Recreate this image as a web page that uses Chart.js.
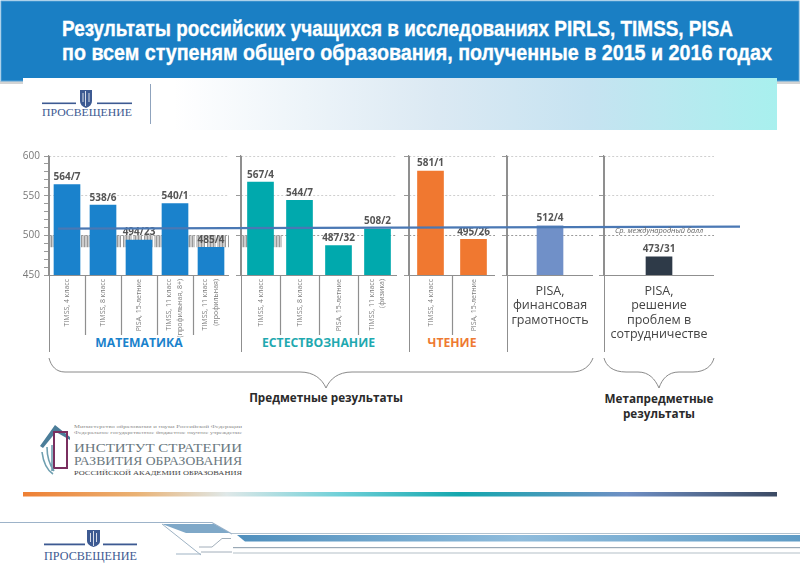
<!DOCTYPE html>
<html lang="ru"><head><meta charset="utf-8">
<script src="https://cdn.jsdelivr.net/npm/chart.js@4"></script>
<style>
html,body{margin:0;padding:0;background:#fff;width:800px;height:565px;overflow:hidden}
#stage{position:relative;width:800px;height:565px;overflow:hidden}
#deco{position:absolute;left:0;top:0}
canvas{position:absolute}
</style></head><body><div id="stage">
<svg id="deco" width="800" height="565" xmlns="http://www.w3.org/2000/svg">
<defs>
<linearGradient id="gBand" x1="0" x2="1" y1="0" y2="0"><stop offset="0.2" stop-color="#fff"/><stop offset="0.55" stop-color="#dbe9f3"/><stop offset="0.75" stop-color="#c6e3f1"/><stop offset="1" stop-color="#a8f0ee"/></linearGradient>
<linearGradient id="gBar" x1="0" x2="1" y1="0" y2="0"><stop offset="0" stop-color="#ee7f33"/><stop offset="0.15" stop-color="#eab274"/><stop offset="0.27" stop-color="#dfe8e8"/><stop offset="0.42" stop-color="#6fd0d8"/><stop offset="0.58" stop-color="#13a7ae"/><stop offset="0.8" stop-color="#6f8fc4"/><stop offset="1" stop-color="#3b4a63"/></linearGradient>
<linearGradient id="gFoot" x1="0" x2="1" y1="0" y2="0"><stop offset="0" stop-color="#4f8fbd"/><stop offset="0.5" stop-color="#8fbcdc"/><stop offset="1" stop-color="#5f9cc6"/></linearGradient>
</defs>
<rect x="0" y="81" width="800" height="3" fill="#d4d4d4"/>
<rect x="1" y="1" width="798" height="80" fill="#1a7fc4" stroke="#5aa3d6"/>
<rect x="23" y="78" width="754" height="52" fill="url(#gBand)"/>
<g font-family="'Liberation Sans'" font-weight="700" fill="#fff" stroke="#fff" stroke-width="0.35" font-size="22.500">
<text x="62" y="36" textLength="671" lengthAdjust="spacingAndGlyphs">Результаты российских учащихся в исследованиях PIRLS, TIMSS, PISA</text>
<text x="62" y="60" textLength="710" lengthAdjust="spacingAndGlyphs">по всем ступеням общего образования, полученные в 2015 и 2016 годах</text>
</g>
<g fill="#3d5a92">
<rect x="42" y="102.500" width="34" height="1.600"/><rect x="97" y="102.500" width="35" height="1.600"/>
<path d="M80 90h12v11q0 5-6 7q-6-2-6-7z"/>
<path d="M85.500 91v15M83 93v9M89 93v9" stroke="#fff" stroke-width="0.8" fill="none"/>
<text x="42" y="116" font-family="'Liberation Serif'" font-size="10.500" textLength="90" lengthAdjust="spacingAndGlyphs">ПРОСВЕЩЕНИЕ</text>
<rect x="150" y="84" width="1" height="40" fill="#8fa3bd"/>
</g>
<g stroke="#8a8a8a" stroke-width="1" fill="none">
<path d="M49 358c2 8 7 14 16 14H300c14 0 22 7 26 16c4-9 12-16 26-16H572c11 0 18-6 21-14"/>
<path d="M604 358c2 8 9 14 22 14h12c11 0 17 7 21 16c3-9 9-16 20-16h14c12 0 19-6 21-14"/>
</g>
<g font-family="'Open Sans'" font-weight="700" text-anchor="middle">
<text x="139" y="347" font-size="12.200" fill="#1a82cc">МАТЕМАТИКА</text>
<text x="318.500" y="347" font-size="12.200" fill="#1fa9b0">ЕСТЕСТВОЗНАНИЕ</text>
<text x="452" y="347" font-size="12.200" fill="#ee7a32">ЧТЕНИЕ</text>
<text x="326" y="402" font-size="11.700" fill="#2a2a2a">Предметные результаты</text>
<text x="659" y="403" font-size="11.700" fill="#2a2a2a">Метапредметные</text>
<text x="659" y="418" font-size="11.700" fill="#2a2a2a">результаты</text>
</g>
<g>
<path d="M40 446l15-21l15 12v3l-14-8l-13 16z" fill="#4b7d99"/>
<rect x="54" y="432" width="13" height="36" fill="none" stroke="#7a2f5f" stroke-width="2"/>
<path d="M42 452q2 16 11 22M47 447q0 14 7 24M52 445v26" stroke="#6f9fb0" stroke-width="1.600" fill="none"/>
<g fill="#6a7880" font-family="'Liberation Serif'">
<text x="74" y="428" font-size="4.500" textLength="168" lengthAdjust="spacingAndGlyphs" fill="#8a8a8a">Министерство образования и науки Российской Федерации</text>
<text x="74" y="434" font-size="4.500" textLength="168" lengthAdjust="spacingAndGlyphs" fill="#8a8a8a">Федеральное государственное бюджетное научное учреждение</text>
<text x="74" y="452" font-size="13.500" textLength="168" lengthAdjust="spacingAndGlyphs">ИНСТИТУТ СТРАТЕГИИ</text>
<text x="74" y="465" font-size="13.500" textLength="168" lengthAdjust="spacingAndGlyphs">РАЗВИТИЯ ОБРАЗОВАНИЯ</text>
<text x="74" y="475" font-size="7" textLength="168" lengthAdjust="spacingAndGlyphs" fill="#444">РОССИЙСКОЙ АКАДЕМИИ ОБРАЗОВАНИЯ</text>
</g></g>
<rect x="23" y="492" width="754" height="4.500" fill="url(#gBar)"/>
<path d="M0 522.500H212L232 534" stroke="#9db3c9" stroke-width="1.200" fill="none"/>
<path d="M162 524H214L230 533H186z" fill="#7fa8c8"/>
<path d="M162 524L201 555M176 554H201" stroke="#9fb3c4" stroke-width="1" fill="none"/>
<path d="M237 535H800V541.500H245z" fill="url(#gFoot)"/>
<rect x="232" y="533" width="568" height="0.800" fill="#9fb3c4"/>
<rect x="233" y="547" width="567" height="1.200" fill="#9aa9b6"/>
<rect x="233" y="552.500" width="567" height="1" fill="#b4bfc8"/>
<path d="M199 547H212L222 538.500H231M201 552H232" stroke="#8a9aa8" fill="none" stroke-width="0.800"/>
<g fill="#3d5a92">
<rect x="44" y="543.500" width="41" height="1.800"/><rect x="103" y="543.500" width="34" height="1.800"/>
<path d="M87 530h13v11q0 4-6.500 6q-6.500-2-6.500-6z"/>
<path d="M93.500 531v15M90.500 533v9M96.500 533v9" stroke="#fff" stroke-width="0.800" fill="none"/>
<text x="44" y="560" font-family="'Liberation Serif'" font-size="11.500" textLength="93" lengthAdjust="spacingAndGlyphs">ПРОСВЕЩЕНИЕ</text>
</g>
</svg>
<script>
// ---- data ----
const yTicksMin = 450, yTicksMax = 600;
const mathCategories = ["TIMSS, 4 класс","TIMSS, 8 класс","PISA, 15-летние",["TIMSS, 11 класс","(профильная, 8+)"],["TIMSS, 11 класс","(профильная)"]];
const mathValues = [564,538,494,540,485];
const mathLabels = ["564/7","538/6","494/23","540/1","485/4"];
const scienceCategories = ["TIMSS, 4 класс","TIMSS, 8 класс","PISA, 15-летние",["TIMSS, 11 класс","(физика)"]];
const scienceValues = [567,544,487,508];
const scienceLabels = ["567/4","544/7","487/32","508/2"];
const readingCategories = ["TIMSS, 4 класс","PISA, 15-летние"];
const readingValues = [581,495];
const readingLabels = ["581/1","495/26"];
const financeCategories = [["PISA,","финансовая","грамотность"]];
const financeValues = [512];
const financeLabels = ["512/4"];
const teamworkCategories = [["PISA,","решение","проблем в","сотрудничестве"]];
const teamworkValues = [473];
const teamworkLabels = ["473/31"];
const averageCategories = ["начало","конец"];
const averageValues = [508.5,511];
const averageLabel = "Ср. международный балл";
const hatchRange = [485,500];

// ---- layout ----
const stage = document.getElementById('stage');
const CANVAS_TOP = 150, CANVAS_H = 210, TOP_PAD = 6, XAXIS_H = 85;

const barLabels = {
  id:'barLabels',
  afterDatasetsDraw(c,_,o){
    const g=c.ctx; g.save();
    g.font='700 10px "Open Sans"'; g.fillStyle='#555'; g.textAlign='center'; g.textBaseline='bottom';
    c.getDatasetMeta(0).data.forEach((b,i)=>g.fillText(o.texts[i],b.x,b.y-2.5));
    g.restore();
  }
};
const hatch = {
  id:'hatch',
  beforeDatasetsDraw(c,_,o){
    if(!o.slots) return;
    const y=c.scales.y, x=c.scales.x, g=c.ctx;
    const top=y.getPixelForValue(hatchRange[1]), bot=y.getPixelForValue(hatchRange[0]);
    const right=x.left+o.slots*(x.right-x.left)/x.ticks.length;
    g.save(); g.strokeStyle='#999'; g.lineWidth=1;
    for(let p=x.left+1,i=0;p<right;p+=1.5,i++){
      if(i%7===6) continue;
      g.beginPath(); g.moveTo(p,top); g.lineTo(p,bot); g.stroke();
    }
    g.restore();
  }
};

function centreTwoLineLabels(s){
  const orig=s.getLabelItems;
  s.getLabelItems=function(a){
    const items=orig.call(this,a);
    items.forEach(it=>{
      if(Array.isArray(it.label)&&!it._centred){it.options.translation[0]-=6;it._centred=true;}
    });
    return items;
  };
}

function panel(cfg){
  const yW = cfg.yWidth;
  const cv = document.createElement('canvas');
  const w = cfg.right-cfg.left+yW;
  cv.width=w; cv.height=CANVAS_H;
  cv.style.cssText=`left:${cfg.left-yW}px;top:${CANVAS_TOP}px;width:${w}px;height:${CANVAS_H}px`;
  stage.appendChild(cv);
  new Chart(cv,{
    type:'bar',
    data:{labels:cfg.categories,datasets:[{data:cfg.values,backgroundColor:cfg.color,barThickness:26,borderWidth:0}]},
    plugins:[barLabels,hatch],
    options:{
      responsive:false,animation:false,devicePixelRatio:1,
      layout:{padding:{top:TOP_PAD,left:0,right:0,bottom:0}},
      plugins:{legend:{display:false},tooltip:{enabled:false},title:{display:false},
        barLabels:{texts:cfg.labels},hatch:{slots:cfg.hatchSlots}},
      scales:{
        x:{
          type:'category',offset:true,
          afterFit(s){s.height=XAXIS_H;s.paddingLeft=0;s.paddingRight=0;},
          afterUpdate:cfg.rotated?centreTwoLineLabels:undefined,
          border:{color:'#8f8f8f',width:1},
          grid:{offset:true,drawOnChartArea:false,drawTicks:true,tickLength:cfg.rotated?60:8,
            tickColor:c=>(cfg.rotated&&c.index>0&&c.index<cfg.categories.length)?'#8f8f8f':'rgba(0,0,0,0)',tickWidth:1.2},
          ticks:cfg.rotated?
            {autoSkip:false,minRotation:90,maxRotation:90,padding:-56,color:'#7c7c7c',font:{family:'Open Sans',size:7,lineHeight:1.5},align:'center'}:
            {autoSkip:false,maxRotation:0,padding:1,color:'#444',font:{family:'Open Sans',size:12.5,lineHeight:1.15}}
        },
        y:{
          min:yTicksMin,max:yTicksMax,
          afterFit(s){s.width=yW;s.paddingTop=0;s.paddingBottom=0;},
          border:{color:'#8f8f8f',width:1.2,dash:[2,2]},
          grid:{color:c=>c.tick.value===500?'#9a9a9a':(c.tick.value%50===0?'#cfcfcf':'rgba(0,0,0,0)'),
            tickColor:c=>(c.tick.value%50===0||cfg.minorTicks)?'#9a9a9a':'rgba(0,0,0,0)',tickLength:5,tickBorderDash:[]},
          ticks:{stepSize:cfg.minorTicks?10:50,autoSkip:false,padding:4,color:'#777',font:{family:'Open Sans',size:10},
            callback:v=>(cfg.showValues&&v%50===0)?String(v):''}
        }
      }
    }
  });
  const rule=document.createElement('div');
  rule.style.cssText=`position:absolute;left:${cfg.left-0.5}px;top:156px;width:1.2px;height:196px;background:#8f8f8f`;
  stage.appendChild(rule);
}

panel({left:49,right:229,yWidth:45,categories:mathCategories,values:mathValues,labels:mathLabels,color:'#1a82cc',rotated:true,hatchSlots:5,minorTicks:true,showValues:true});
panel({left:241,right:397,yWidth:6,categories:scienceCategories,values:scienceValues,labels:scienceLabels,color:'#00a9ad',rotated:true,hatchSlots:1.1});
panel({left:409,right:495,yWidth:6,categories:readingCategories,values:readingValues,labels:readingLabels,color:'#f07830',rotated:true});
panel({left:507,right:593,yWidth:6,categories:financeCategories,values:financeValues,labels:financeLabels,color:'#7090c8',rotated:false});
panel({left:604,right:714,yWidth:6,categories:teamworkCategories,values:teamworkValues,labels:teamworkLabels,color:'#2e3a48',rotated:false});

// international average line, on its own transparent chart spanning all panels
(function(){
  const left=58,right=740,w=right-left;
  const cv=document.createElement('canvas');
  cv.width=w;cv.height=CANVAS_H;
  cv.style.cssText=`left:${left}px;top:${CANVAS_TOP}px;width:${w}px;height:${CANVAS_H}px`;
  stage.appendChild(cv);
  new Chart(cv,{
    type:'line',
    data:{labels:averageCategories,datasets:[{data:averageValues,borderColor:'#4a78b4',borderWidth:2.4,pointRadius:0,tension:0,clip:false}]},
    options:{responsive:false,animation:false,devicePixelRatio:1,
      layout:{padding:{top:TOP_PAD,bottom:XAXIS_H,left:0,right:0}},
      plugins:{legend:{display:false},tooltip:{enabled:false}},
      scales:{x:{display:false,offset:false},y:{display:false,min:yTicksMin,max:yTicksMax}}}
  });
  const t=document.createElement('div');
  t.textContent=averageLabel;
  t.style.cssText='position:absolute;left:615px;top:225px;font:italic 7.4px "Open Sans";color:#666;white-space:nowrap';
  stage.appendChild(t);
})();
</script>
</div></body></html>
